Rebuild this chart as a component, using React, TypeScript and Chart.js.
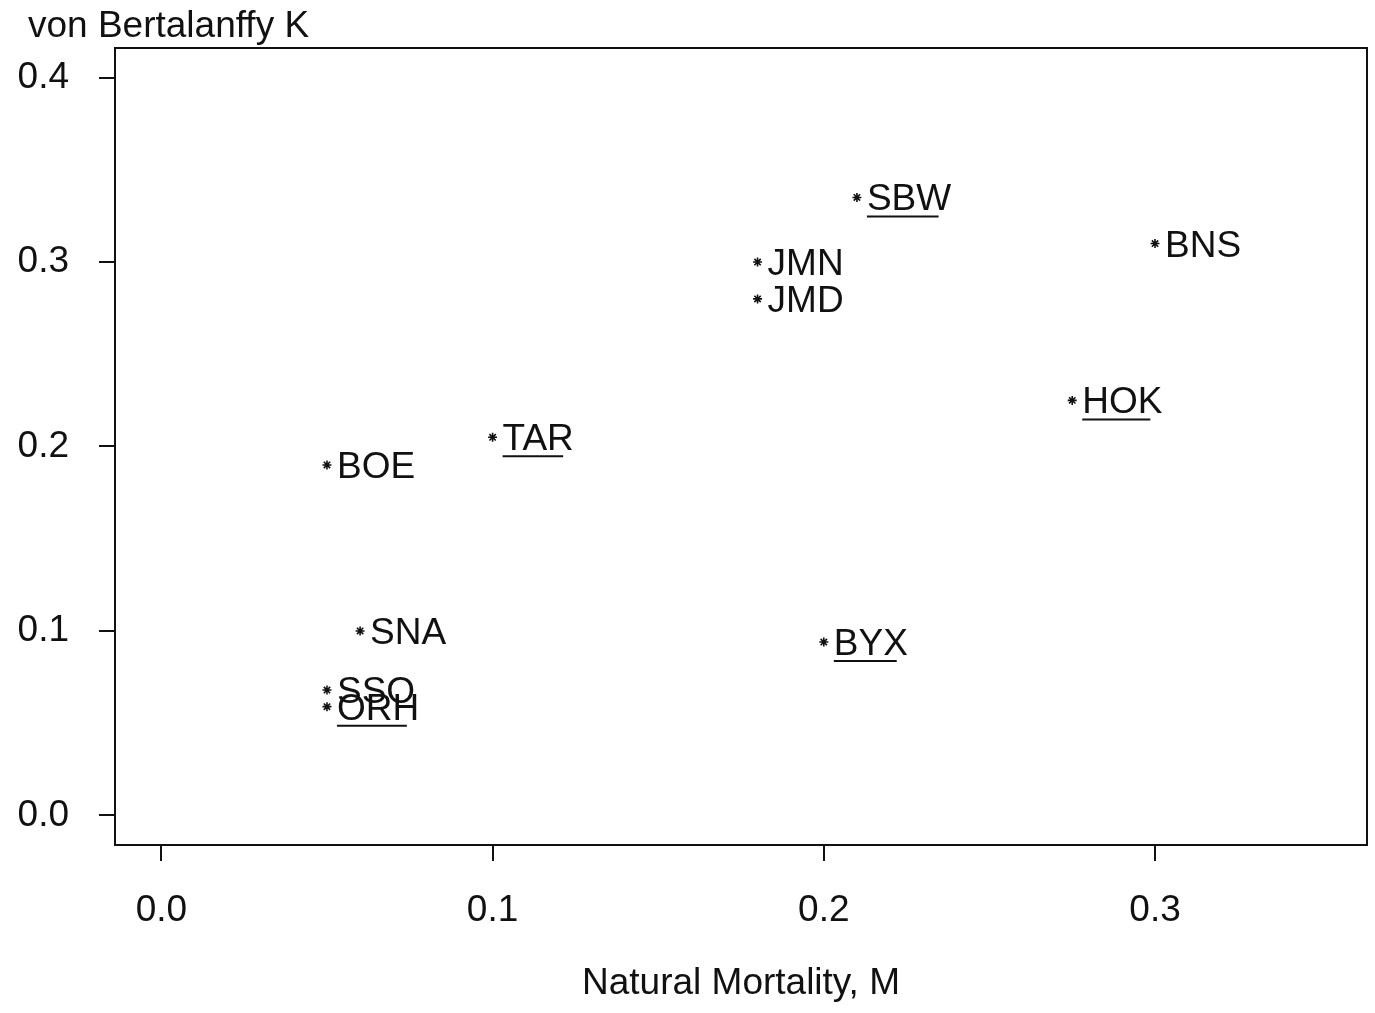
import React, { useEffect, useRef } from 'react';
import { Chart, registerables } from 'chart.js';

Chart.register(...registerables);

// ---- data ----
const speciesCodes = ['SBW', 'BNS', 'JMN', 'JMD', 'HOK', 'TAR', 'BOE', 'SNA', 'BYX', 'SSO', 'ORH'];
const naturalMortality = [0.21, 0.30, 0.18, 0.18, 0.275, 0.10, 0.05, 0.06, 0.20, 0.05, 0.05];
const vonBertalanffyK = [0.335, 0.31, 0.30, 0.28, 0.225, 0.205, 0.19, 0.10, 0.094, 0.068, 0.059];
const underlinedCodes = ['SBW', 'HOK', 'TAR', 'BYX', 'ORH'];
const xTickValues = [0, 0.1, 0.2, 0.3];
const yTickValues = [0, 0.1, 0.2, 0.3, 0.4];
const xAxisTitle = 'Natural Mortality, M';
const yAxisTitle = 'von Bertalanffy K';

const FONT_FAMILY = '"Liberation Sans", Arial, Helvetica, sans-serif';
const FONT_SIZE = 37;
const INK = '#111';

const annotatePlugin = {
  id: 'annotate',
  afterDatasetsDraw(chart: any) {
    const ctx = chart.ctx;
    const meta = chart.getDatasetMeta(0);
    const { left, top, right, bottom } = chart.chartArea;
    ctx.save();
    ctx.font = `${FONT_SIZE}px ${FONT_FAMILY}`;
    ctx.fillStyle = INK;
    ctx.strokeStyle = INK;
    ctx.textAlign = 'left';
    ctx.textBaseline = 'alphabetic';
    meta.data.forEach((el: any, i: number) => {
      const code = speciesCodes[i];
      const tx = el.x + 10;
      const base = el.y + 13;
      ctx.fillText(code, tx, base);
      if (underlinedCodes.includes(code)) {
        const w = ctx.measureText(code).width;
        ctx.lineWidth = 2;
        ctx.beginPath();
        ctx.moveTo(tx, base + 6);
        ctx.lineTo(tx + w * 0.85, base + 6);
        ctx.stroke();
      }
    });
    // plot frame
    ctx.lineWidth = 2;
    ctx.strokeRect(left, top, right - left, bottom - top);
    // axis titles
    ctx.textAlign = 'left';
    ctx.fillText(yAxisTitle, 28, 37);
    ctx.textAlign = 'center';
    ctx.fillText(xAxisTitle, (left + right) / 2, 994);
    ctx.restore();
  },
};

export default function App() {
  const canvasRef = useRef<HTMLCanvasElement | null>(null);

  useEffect(() => {
    if (!canvasRef.current) return;
    const font = { family: FONT_FAMILY, size: FONT_SIZE };
    const chart = new Chart(canvasRef.current, {
      type: 'scatter',
      data: {
        datasets: [
          {
            data: speciesCodes.map((_, i) => ({ x: naturalMortality[i], y: vonBertalanffyK[i] })),
            pointStyle: 'star',
            radius: 4.5,
            borderWidth: 1.6,
            borderColor: INK,
            backgroundColor: INK,
          },
        ],
      },
      options: {
        responsive: false,
        animation: false,
        devicePixelRatio: 1,
        layout: { autoPadding: false, padding: { top: 48, right: 8, left: 0, bottom: 0 } },
        plugins: { legend: { display: false }, tooltip: { enabled: false } },
        scales: {
          x: {
            type: 'linear',
            min: -0.014,
            max: 0.364,
            afterBuildTicks: (s: any) => {
              s.ticks = xTickValues.map((v) => ({ value: v }));
            },
            afterFit: (s: any) => {
              s.height = 168;
              s.paddingLeft = 0;
              s.paddingRight = 0;
            },
            ticks: {
              callback: (v: any) => Number(v).toFixed(1),
              font,
              color: INK,
              padding: 28,
              maxRotation: 0,
              autoSkip: false,
            },
            grid: {
              drawOnChartArea: false,
              drawTicks: true,
              tickLength: 16,
              color: INK,
              tickColor: INK,
              lineWidth: 2,
              tickWidth: 2,
            },
            border: { display: true, color: INK, width: 2 },
          },
          y: {
            type: 'linear',
            min: -0.016,
            max: 0.416,
            afterBuildTicks: (s: any) => {
              s.ticks = yTickValues.map((v) => ({ value: v }));
            },
            afterFit: (s: any) => {
              s.width = 115;
              s.paddingTop = 0;
              s.paddingBottom = 0;
            },
            ticks: {
              callback: (v: any) => Number(v).toFixed(1),
              font,
              color: INK,
              padding: 30,
              autoSkip: false,
            },
            grid: {
              drawOnChartArea: false,
              drawTicks: true,
              tickLength: 16,
              color: INK,
              tickColor: INK,
              lineWidth: 2,
              tickWidth: 2,
            },
            border: { display: true, color: INK, width: 2 },
          },
        },
      },
      plugins: [annotatePlugin],
    } as any);
    return () => chart.destroy();
  }, []);

  return (
    <div style={{ position: 'fixed', left: 0, top: 0, width: 1375, height: 1013, background: '#fff' }}>
      <canvas ref={canvasRef} width={1375} height={1013} style={{ display: 'block' }} />
    </div>
  );
}
